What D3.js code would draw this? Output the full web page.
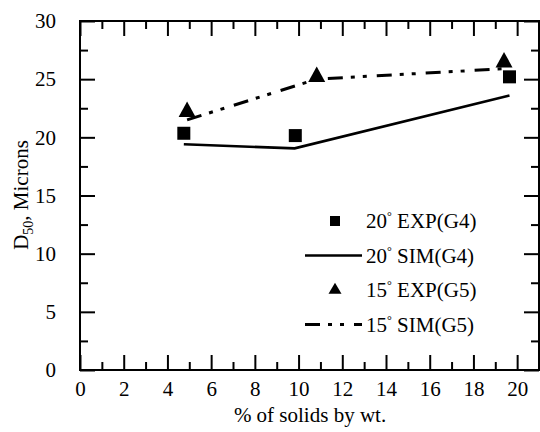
<!DOCTYPE html>
<html>
<head>
<meta charset="utf-8">
<script src="https://cdn.jsdelivr.net/npm/d3@7"></script>
</head>
<body style="margin:0;background:#fff">
<svg id="chart" width="540" height="432" font-family="Liberation Serif"></svg>
<script>
// Solids loading (% by wt.) and D50 (microns)
const expG4X = [4.75, 9.85, 19.65];
const expG4Y = [20.35, 20.15, 25.2];
const simG4X = [4.75, 9.82, 19.65];
const simG4Y = [19.4, 19.05, 23.6];
const expG5X = [4.9, 10.83, 19.4];
const expG5Y = [22.2, 25.2, 26.45];
const simG5X = [4.9, 10.83, 19.4];
const simG5Y = [21.5, 25.0, 25.9];

const xTicks = [0, 2, 4, 6, 8, 10, 12, 14, 16, 18, 20];
const yTicks = [0, 5, 10, 15, 20, 25, 30];

const legendLabels = [
  { deg: "20", rest: " EXP(G4)" },
  { deg: "20", rest: " SIM(G4)" },
  { deg: "15", rest: " EXP(G5)" },
  { deg: "15", rest: " SIM(G5)" }
];

const FONT = "'Liberation Serif', 'DejaVu Serif', serif";
const svg = d3.select("#chart");
const plotL = 80, plotR = 539, plotT = 21, plotB = 370;

const x = d3.scaleLinear().domain([0, 21]).range([plotL, plotR]);
const y = d3.scaleLinear().domain([0, 30]).range([plotB, plotT]);

const dashDot = "15,8,4,8,4,10";

function serif(sel, size) {
  return sel.attr("font-family", "Liberation Serif")
    .style("font-family", FONT)
    .attr("font-size", size)
    .style("font-size", size + "px");
}

// Axes with inward ticks on all four sides
function axisGroup(axis, tx, ty) {
  const g = svg.append("g").attr("transform", `translate(${tx},${ty})`).call(axis);
  g.attr("font-family", "Liberation Serif").attr("font-size", 21);
  g.select(".domain").remove();
  g.selectAll("line").attr("stroke", "#000").attr("stroke-width", 2);
  serif(g.selectAll("text").attr("fill", "#000"), 21);
  return g;
}
const xMinor = d3.range(1, 21, 2);
const yMinor = [2.5, 7.5, 12.5, 17.5, 22.5, 27.5];

axisGroup(d3.axisBottom(x).tickValues(xTicks).tickSize(-15).tickPadding(28).tickFormat(d3.format("d")), 0, plotB)
  .selectAll("text").attr("dy", "-0.1em");
axisGroup(d3.axisBottom(x).tickValues(xMinor).tickSize(-8).tickFormat(""), 0, plotB);
axisGroup(d3.axisTop(x).tickValues(xTicks).tickSize(-15).tickFormat(""), 0, plotT);
axisGroup(d3.axisTop(x).tickValues(xMinor).tickSize(-8).tickFormat(""), 0, plotT);
axisGroup(d3.axisLeft(y).tickValues(yTicks).tickSize(-15).tickPadding(24).tickFormat(d3.format("d")), plotL, 0);
axisGroup(d3.axisLeft(y).tickValues(yMinor).tickSize(-8).tickFormat(""), plotL, 0);
axisGroup(d3.axisRight(y).tickValues(yTicks).tickSize(-15).tickFormat(""), plotR, 0);
axisGroup(d3.axisRight(y).tickValues(yMinor).tickSize(-8).tickFormat(""), plotR, 0);

// Frame
svg.append("rect")
  .attr("x", plotL).attr("y", plotT)
  .attr("width", plotR - plotL).attr("height", plotB - plotT)
  .attr("fill", "none").attr("stroke", "#000").attr("stroke-width", 2);

// Simulation lines
const line = d3.line().x(d => x(d[0])).y(d => y(d[1]));
svg.append("path")
  .datum(d3.zip(simG4X, simG4Y))
  .attr("d", line).attr("fill", "none")
  .attr("stroke", "#000").attr("stroke-width", 2.6);
svg.append("path")
  .datum(d3.zip(simG5X, simG5Y))
  .attr("d", line).attr("fill", "none")
  .attr("stroke", "#000").attr("stroke-width", 3)
  .attr("stroke-dasharray", dashDot);

// Markers
function trianglePath(w, h) {
  // centroid at origin
  return `M0,${-2 * h / 3}L${w / 2},${h / 3}L${-w / 2},${h / 3}Z`;
}
svg.append("g").selectAll("rect")
  .data(d3.zip(expG4X, expG4Y))
  .join("rect")
  .attr("x", d => x(d[0]) - 6.5).attr("y", d => y(d[1]) - 6.5)
  .attr("width", 13).attr("height", 13).attr("fill", "#000");
svg.append("g").selectAll("path")
  .data(d3.zip(expG5X, expG5Y))
  .join("path")
  .attr("transform", d => `translate(${x(d[0])},${y(d[1])})`)
  .attr("d", trianglePath(17, 15.5)).attr("fill", "#000");

// Axis titles
serif(svg.append("text"), 21)
  .attr("x", 310).attr("y", 422)
  .attr("text-anchor", "middle")
  .text("% of solids by wt.");

const yTitle = serif(svg.append("text"), 21)
  .attr("transform", "translate(28,195) rotate(-90)")
  .attr("text-anchor", "middle");
yTitle.append("tspan").text("D");
yTitle.append("tspan").attr("dy", 5).style("font-size", "14px").text("50");
yTitle.append("tspan").attr("dy", -5).text(", Microns");

// Legend
const rowY = [221, 255.5, 290, 324.5];
const lg = svg.append("g");
const mx = 335, lx1 = 305, lx2 = 362, tx = 366;
lg.append("rect").attr("x", mx - 5).attr("y", rowY[0] - 5)
  .attr("width", 10).attr("height", 10).attr("fill", "#000");
lg.append("line").attr("x1", lx1).attr("x2", lx2).attr("y1", rowY[1]).attr("y2", rowY[1])
  .attr("stroke", "#000").attr("stroke-width", 2.6);
lg.append("path").attr("transform", `translate(${mx},${rowY[2]})`)
  .attr("d", trianglePath(13, 11)).attr("fill", "#000");
lg.append("line").attr("x1", lx1).attr("x2", lx2).attr("y1", rowY[3]).attr("y2", rowY[3])
  .attr("stroke", "#000").attr("stroke-width", 3)
  .attr("stroke-dasharray", dashDot);

legendLabels.forEach((d, i) => {
  const t = serif(lg.append("text"), 21)
    .attr("x", tx).attr("y", rowY[i] + 7);
  t.append("tspan").text(d.deg);
  t.append("tspan").attr("dy", -8).style("font-size", "12px").text("°");
  t.append("tspan").attr("dy", 8).text(d.rest);
});
</script>
</body>
</html>
